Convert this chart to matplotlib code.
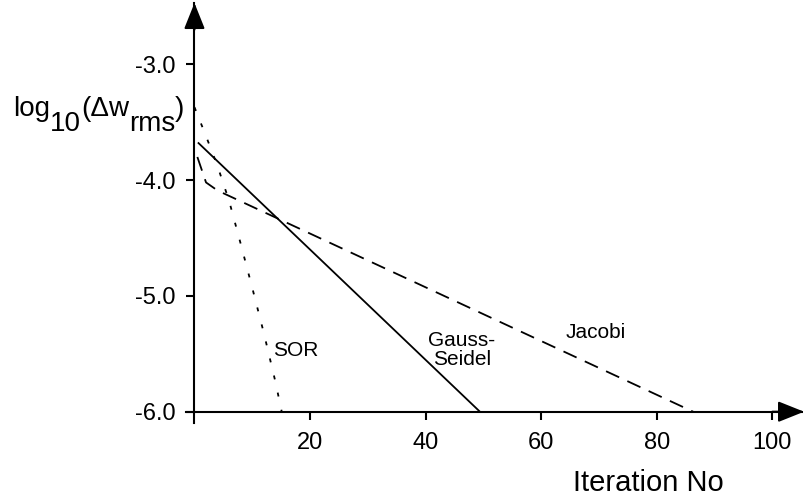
"""Convergence of SOR, Gauss-Seidel and Jacobi iterations -> out.png."""

import matplotlib
matplotlib.use("Agg")
import matplotlib.pyplot as plt

# values
sor_x = [0, 2, 4, 6, 8, 10, 12, 14, 15.1]
sor_y = [-3.37, -3.62, -3.88, -4.18, -4.55, -4.93, -5.32, -5.74, -6.0]
gs_x = [0.7, 49.4]
gs_y = [-3.68, -6.0]
jac_x = [0.5, 2, 4, 86.3]
jac_y = [-3.8, -4.02, -4.09, -6.0]

xticks = [20, 40, 60, 80, 100]
yticks = [-6.0, -5.0, -4.0, -3.0]

plt.rcParams["font.family"] = ["Liberation Sans", "DejaVu Sans"]
plt.rcParams["axes.unicode_minus"] = False


def main():
    fig = plt.figure(figsize=(8.04, 4.96), dpi=100)
    ax = fig.add_axes([0.2311, 0.1466, 0.769, 0.8474])
    ax.set_xlim(-1.5, 105.5)
    ax.set_ylim(-6.1, -2.47)

    for side in ("top", "right"):
        ax.spines[side].set_visible(False)
    ax.spines["left"].set_position(("data", 0))
    ax.spines["bottom"].set_position(("data", -6))
    for side in ("left", "bottom"):
        ax.spines[side].set_linewidth(1.5)

    ax.set_xticks(xticks)
    ax.set_xticklabels([str(v) for v in xticks])
    ax.set_yticks(yticks)
    ax.set_yticklabels([f"{v:.1f}" for v in yticks])
    ax.tick_params(direction="out", length=5.8, width=1.5, labelsize=17)
    ax.tick_params(axis="x", pad=9)
    ax.tick_params(axis="y", pad=8)

    # arrow heads at the axis ends
    head = dict(arrowstyle="-|>,head_length=1.0,head_width=0.4", mutation_scale=16,
                lw=1.5, color="black", shrinkA=0, shrinkB=0)
    ax.annotate("", xy=(105.5, -6), xytext=(100, -6), arrowprops=head, annotation_clip=False)
    ax.annotate("", xy=(0, -2.47), xytext=(0, -2.7), arrowprops=head, annotation_clip=False)

    ax.plot(sor_x, sor_y, color="black", lw=1.3, dashes=(2.2, 7.5), clip_on=False)
    ax.plot(gs_x, gs_y, color="black", lw=1.3, clip_on=False)
    ax.plot(jac_x, jac_y, color="black", lw=1.3, dashes=(8, 5), clip_on=False)

    ax.text(13.6, -5.47, "SOR", fontsize=15, ha="left", va="center")
    ax.text(46.3, -5.47, "Gauss-\nSeidel", fontsize=15, ha="center", va="center",
            multialignment="center", linespacing=1.0)
    ax.text(69.5, -5.32, "Jacobi", fontsize=15, ha="center", va="center")

    # y label built from pieces so the subscripts stay full size
    base = (496 - 116) / 496
    pieces = [("10", -11), ("(\u0394w", 0), ("rms", -11), (")", 0)]
    last = fig.text(13 / 804, base, "log", fontsize=20, va="baseline")
    for s, dy in pieces:
        last = ax.annotate(s, xy=(1, base), xycoords=(last, "figure fraction"),
                           xytext=(0, dy), textcoords="offset points",
                           fontsize=20, va="baseline", ha="left", annotation_clip=False)

    fig.text(573 / 804, (496 - 490.7) / 496, "Iteration No", fontsize=21,
             ha="left", va="baseline")

    fig.savefig("out.png", dpi=100)


if __name__ == "__main__":
    main()
